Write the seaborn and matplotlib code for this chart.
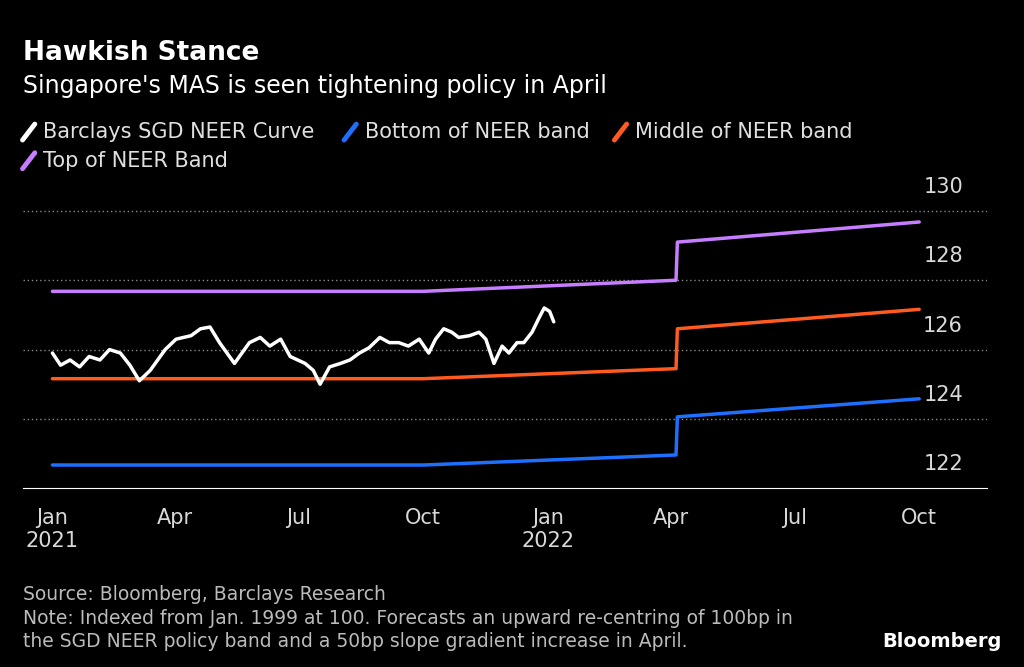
import matplotlib.pyplot as plt
import matplotlib.transforms as mtransforms
import pandas as pd
import seaborn as sns

# Barclays SGD NEER curve
curve_dates = ["2021-01-01", "2021-01-07", "2021-01-14", "2021-01-21", "2021-01-28", "2021-02-05",
               "2021-02-12", "2021-02-20", "2021-02-27", "2021-03-06", "2021-03-14", "2021-03-25",
               "2021-04-02", "2021-04-13", "2021-04-20", "2021-04-27", "2021-05-04", "2021-05-15",
               "2021-05-26", "2021-06-03", "2021-06-10", "2021-06-18", "2021-06-25", "2021-07-06",
               "2021-07-12", "2021-07-17", "2021-07-24", "2021-08-01", "2021-08-08", "2021-08-15",
               "2021-08-22", "2021-08-30", "2021-09-06", "2021-09-13", "2021-09-20", "2021-09-28",
               "2021-10-05", "2021-10-10", "2021-10-16", "2021-10-22", "2021-10-27", "2021-11-04",
               "2021-11-11", "2021-11-16", "2021-11-22", "2021-11-28", "2021-12-03", "2021-12-09",
               "2021-12-14", "2021-12-20", "2021-12-25", "2021-12-29", "2022-01-02", "2022-01-05"]
curve_vals = [125.9, 125.55, 125.7, 125.5, 125.8, 125.7, 126.0, 125.9, 125.55, 125.1, 125.4, 126.0,
              126.3, 126.4, 126.6, 126.65, 126.2, 125.6, 126.2, 126.35, 126.1, 126.3, 125.8, 125.6,
              125.4, 125.0, 125.5, 125.6, 125.7, 125.9, 126.05, 126.35, 126.2, 126.2, 126.1, 126.3,
              125.9, 126.3, 126.6, 126.5, 126.35, 126.4, 126.5, 126.3, 125.6, 126.1, 125.9, 126.2,
              126.2, 126.5, 126.9, 127.2, 127.1, 126.8]

# NEER band knots
band_dates = ["2021-01-01", "2021-10-01", "2022-04-05", "2022-04-06", "2022-10-01"]
bottom_vals = [122.67, 122.67, 122.96, 124.06, 124.58]
middle_vals = [125.16, 125.16, 125.45, 126.6, 127.16]
top_vals = [127.68, 127.68, 128.0, 129.1, 129.68]

y_ticks = [122, 124, 126, 128, 130]

curve = pd.DataFrame({"date": pd.to_datetime(curve_dates), "val": curve_vals})
bands = pd.DataFrame({"date": pd.to_datetime(band_dates), "bottom": bottom_vals,
                      "middle": middle_vals, "top": top_vals})

sns.set_style("dark")
plt.rcParams["font.family"] = ["DejaVu Sans"]
fig = plt.figure(figsize=(10.24, 6.67), dpi=100, facecolor="black")
ax = fig.add_axes([0.022, 0.268, 0.942, 0.447], facecolor="black")

sns.lineplot(data=bands, x="date", y="top", ax=ax, color="#c77dff", lw=2.5, label="Top of NEER Band")
sns.lineplot(data=bands, x="date", y="middle", ax=ax, color="#ff5a1f", lw=2.5, label="Middle of NEER band")
sns.lineplot(data=bands, x="date", y="bottom", ax=ax, color="#1f6fff", lw=2.5, label="Bottom of NEER band")
sns.lineplot(data=curve, x="date", y="val", ax=ax, color="white", lw=2.5, label="Barclays SGD NEER Curve")
ax.get_legend().remove()

ax.set_xlim(pd.Timestamp("2020-12-10"), pd.Timestamp("2022-11-20"))
ax.set_ylim(122, 130.6)
ax.set_yticks(y_ticks[1:])
ax.set_yticklabels([])
ax.tick_params(axis="y", length=0)
ax.grid(axis="y", color="#888888", linestyle=(0, (1, 2)), lw=1)
ax.grid(axis="x", visible=False)
lbl_tr = mtransforms.offset_copy(ax.get_yaxis_transform(), fig=fig, x=0, y=10, units="points")
for v in y_ticks:
    ax.text(0.975, v, str(v), transform=lbl_tr, color="#d9d9d9", fontsize=15,
            ha="right", va="bottom")
xt = pd.to_datetime(["2021-01-01", "2021-04-01", "2021-07-01", "2021-10-01",
                     "2022-01-01", "2022-04-01", "2022-07-01", "2022-10-01"])
ax.set_xticks(xt)
ax.set_xticklabels(["Jan\n2021", "Apr", "Jul", "Oct", "Jan\n2022", "Apr", "Jul", "Oct"], va="top")
ax.tick_params(axis="x", length=6, color="white", labelsize=15, pad=8)
for lbl in ax.get_xticklabels():
    lbl.set_color("#d9d9d9")
for s in ["top", "left", "right"]:
    ax.spines[s].set_visible(False)
ax.spines["bottom"].set_color("white")
ax.set_xlabel("")
ax.set_ylabel("")

fig.text(0.022, 0.91, "Hawkish Stance", color="white", fontsize=19, fontweight="bold")
fig.text(0.022, 0.86, "Singapore's MAS is seen tightening policy in April", color="white", fontsize=17)

def legend_item(x, y, color, text):
    fig.add_artist(plt.Line2D([x, x + 0.012], [y - 0.012, y + 0.012], color=color, lw=3.5,
                              transform=fig.transFigure))
    fig.text(x + 0.02, y, text, color="#e0e0e0", fontsize=15, va="center")

legend_item(0.022, 0.802, "white", "Barclays SGD NEER Curve")
legend_item(0.336, 0.802, "#1f6fff", "Bottom of NEER band")
legend_item(0.6, 0.802, "#ff5a1f", "Middle of NEER band")
legend_item(0.022, 0.759, "#c77dff", "Top of NEER Band")

fig.text(0.022, 0.1, "Source: Bloomberg, Barclays Research", color="#bbbbbb", fontsize=13.5)
fig.text(0.022, 0.065, "Note: Indexed from Jan. 1999 at 100. Forecasts an upward re-centring of 100bp in",
         color="#bbbbbb", fontsize=13.5)
fig.text(0.022, 0.03, "the SGD NEER policy band and a 50bp slope gradient increase in April.",
         color="#bbbbbb", fontsize=13.5)
fig.text(0.978, 0.03, "Bloomberg", color="white", fontsize=14, fontweight="bold", ha="right")

fig.savefig("out.png", facecolor="black")
